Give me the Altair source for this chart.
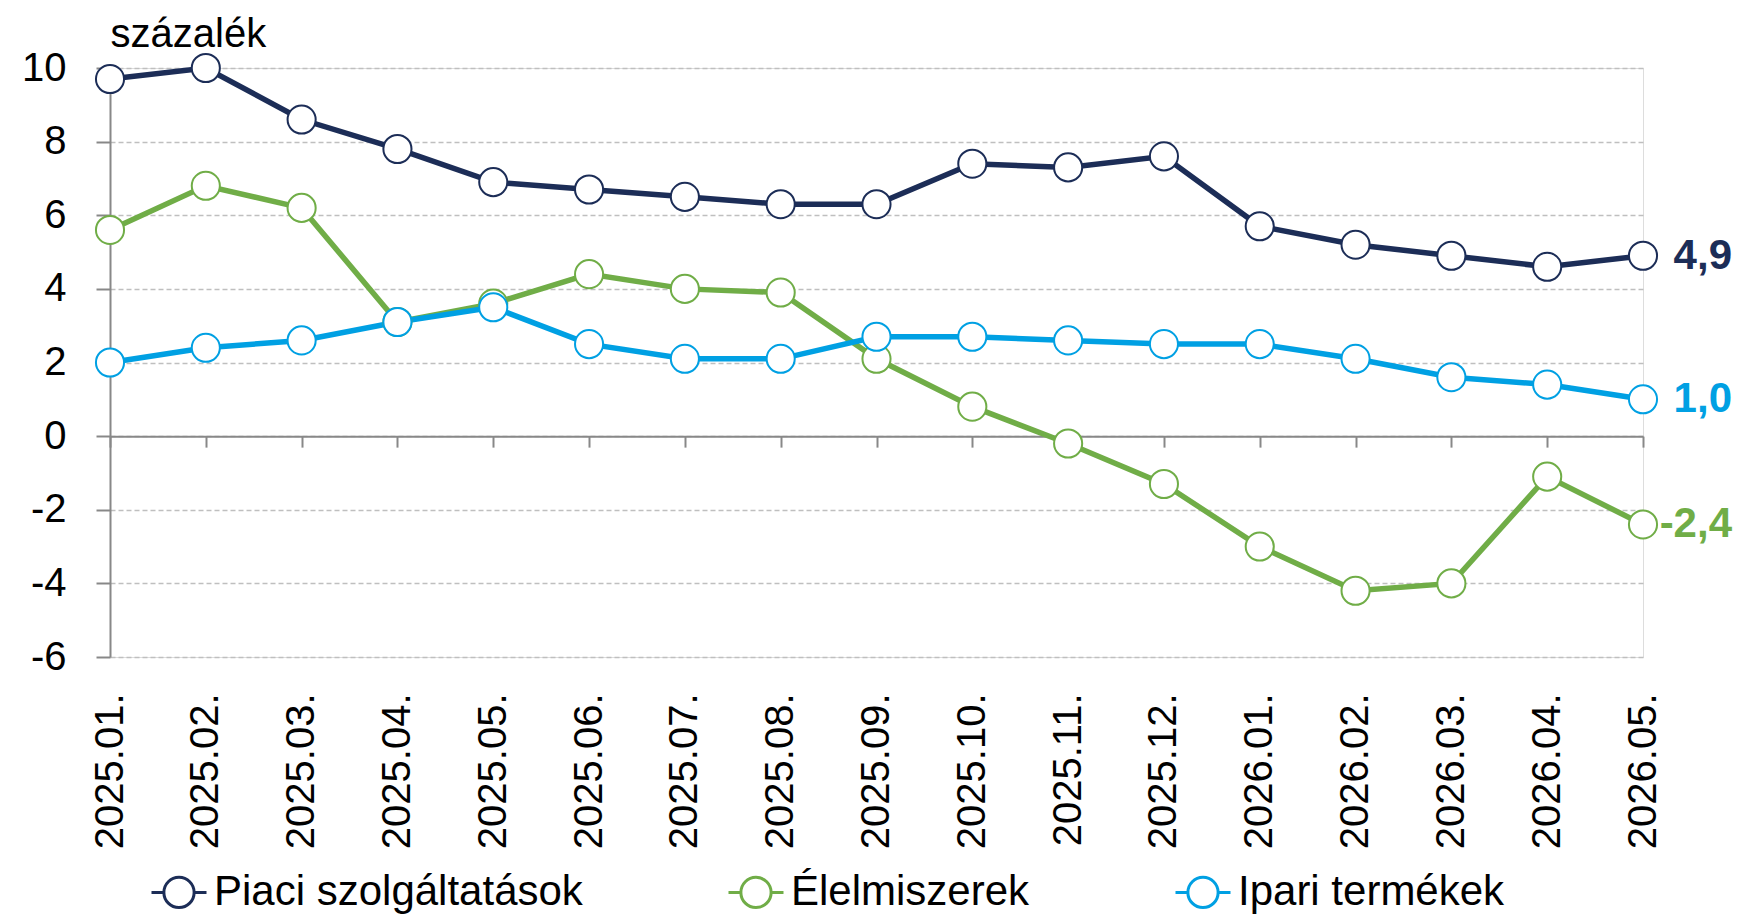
import altair as alt
import pandas as pd

months = ["2025.01.", "2025.02.", "2025.03.", "2025.04.", "2025.05.", "2025.06.",
          "2025.07.", "2025.08.", "2025.09.", "2025.10.", "2025.11.", "2025.12.",
          "2026.01.", "2026.02.", "2026.03.", "2026.04.", "2026.05."]

series_names = ["Piaci szolgáltatások", "Élelmiszerek", "Ipari termékek"]
series_colors = ["#1C2D57", "#70AD47", "#00A0E3"]

piaci = [9.7, 10.0, 8.6, 7.8, 6.9, 6.7, 6.5, 6.3, 6.3, 7.4, 7.3, 7.6,
         5.7, 5.2, 4.9, 4.6, 4.9]
elelmiszer = [5.6, 6.8, 6.2, 3.1, 3.6, 4.4, 4.0, 3.9, 2.1, 0.8, -0.2, -1.3,
              -3.0, -4.2, -4.0, -1.1, -2.4]
ipari = [2.0, 2.4, 2.6, 3.1, 3.5, 2.5, 2.1, 2.1, 2.7, 2.7, 2.6, 2.5,
         2.5, 2.1, 1.6, 1.4, 1.0]

y_ticks = [-6, -4, -2, 0, 2, 4, 6, 8, 10]

FONT = "Liberation Sans"
W, H = 1533, 589
YMIN, YMAX = -6, 10

rows = []
for name, vals in zip(series_names, [piaci, elelmiszer, ipari]):
    for m, v in zip(months, vals):
        rows.append({"month": m, "series": name, "value": v})
df = pd.DataFrame(rows)

last = df[df["month"] == months[-1]].copy()
last["label"] = last["value"].map(lambda v: f"{v:.1f}".replace(".", ","))

color_scale = alt.Scale(domain=series_names, range=series_colors)
x_scale = alt.Scale(domain=months, paddingOuter=0, padding=0)
y_scale = alt.Scale(domain=[YMIN, YMAX], nice=False, zero=False)

# line - hollow circle - line; the circle is traced both ways so it is never filled
legend_symbol = ("M-1,0H-0.55M0.55,0H1"
                 "M-0.55,0A0.55,0.55,0,1,1,0.55,0A0.55,0.55,0,1,1,-0.55,0Z"
                 "M-0.55,0A0.55,0.55,0,1,0,0.55,0A0.55,0.55,0,1,0,-0.55,0Z")

lines = alt.Chart(df).mark_line(
    strokeWidth=5.5,
    point=alt.OverlayMarkDef(filled=False, fill="white", size=790, strokeWidth=2, opacity=1),
).encode(
    x=alt.X("month:O", scale=x_scale, sort=months,
            axis=alt.Axis(title=None, orient="bottom", domain=False, ticks=False, grid=False,
                          labelAngle=270, labelFont=FONT, labelFontSize=40,
                          labelColor="black", labelPadding=36)),
    y=alt.Y("value:Q", scale=y_scale,
            axis=alt.Axis(values=y_ticks, labelExpr="'' + datum.value",
                          title="százalék", titleAngle=0, titleX=0, titleY=-22,
                          titleAlign="left", titleBaseline="alphabetic", titleFont=FONT,
                          titleFontSize=40, titleFontWeight="normal", titleColor="black",
                          labelFont=FONT, labelFontSize=40, labelColor="black",
                          labelPadding=30, tickSize=14, tickColor="#888888", tickWidth=2,
                          domainColor="#888888", domainWidth=2,
                          grid=True, gridColor="#BFBFBF", gridDash=[5, 3], gridWidth=1.5)),
    color=alt.Color("series:N", scale=color_scale, sort=series_names,
                    legend=alt.Legend(title=None, orient="none", direction="horizontal",
                                      legendX=40, legendY=795, padding=0,
                                      symbolType=legend_symbol, symbolSize=3025,
                                      symbolStrokeWidth=3, symbolFillColor="white",
                                      labelFont=FONT, labelFontSize=42, labelColor="black",
                                      labelOffset=6, columnPadding=139, labelLimit=700)),
    order=alt.Order("month:O"),
)

zero_offset = -(H - H * (YMAX - 0) / (YMAX - YMIN))

labels = alt.Chart(last).mark_text(
    align="right", baseline="middle", dx=89, font=FONT, fontSize=42, fontWeight="bold"
).encode(
    x=alt.X("month:O", scale=x_scale,
            axis=alt.Axis(title=None, orient="bottom", offset=zero_offset, labels=False,
                          domain=True, domainColor="#888888", domainWidth=2,
                          ticks=True, tickSize=11, tickColor="#888888", tickWidth=2,
                          grid=False)),
    y=alt.Y("value:Q", scale=y_scale),
    text="label:N",
    color=alt.Color("series:N", scale=color_scale, legend=None),
)

chart = alt.layer(lines, labels).resolve_axis(x="independent").properties(
    width=W, height=H,
    autosize="none",
    padding={"left": 102, "top": 60, "right": 90, "bottom": 906 - 60 - H},
).configure_view(stroke=None).configure(background="white")

chart.save("out.html", embed_options={"renderer": "svg", "actions": False})
